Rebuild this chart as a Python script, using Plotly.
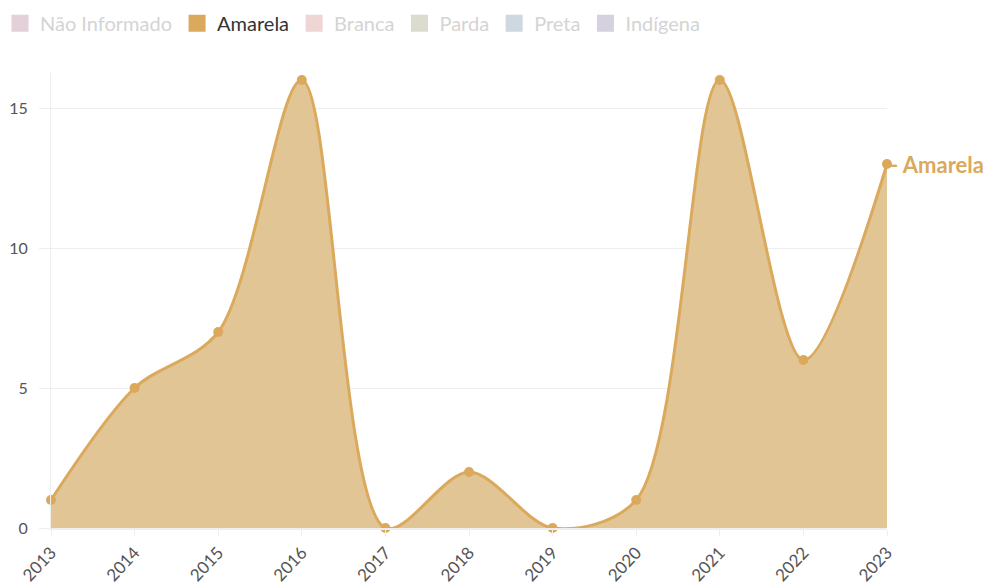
import plotly.graph_objects as go

# anos e valores (apenas a serie Amarela esta visivel)
anos = [2013, 2014, 2015, 2016, 2017, 2018, 2019, 2020, 2021, 2022, 2023]
amarela = [1, 5, 7, 16, 0, 2, 0, 1, 16, 6, 13]

legenda = ["Não Informado", "Amarela", "Branca", "Parda", "Preta", "Indígena"]
cores = {
    "Não Informado": "#c9a3b3",
    "Amarela": "#dba95c",
    "Branca": "#e3adad",
    "Parda": "#b9b9a0",
    "Preta": "#a0b2be",
    "Indígena": "#aea5be",
}

cor_linha = cores["Amarela"]
cor_area = "#e2c594"
fonte = "Lato, 'Open Sans', sans-serif"

fig = go.Figure()

# area da serie Amarela
fig.add_trace(go.Scatter(
    x=anos, y=amarela, name="Amarela", mode="lines+markers",
    line=dict(color=cor_linha, width=3, shape="spline", smoothing=0.9),
    marker=dict(size=10, color=cor_linha), cliponaxis=False,
    fill="tozeroy", fillcolor=cor_area,
    legendgroup="Amarela", showlegend=False))

# itens da legenda (as outras series estao ocultas)
for i, nome in enumerate(legenda):
    visivel = nome == "Amarela"
    texto = nome if visivel else f"<span style='color:#aaaaaa'>{nome}</span>"
    fig.add_trace(go.Scatter(
        x=[None], y=[None], name=texto, mode="markers",
        marker=dict(symbol="square", size=14, color=cores[nome],
                    line=dict(color=cores[nome], width=3)),
        legendgroup=nome, legendrank=i,
        visible=True if visivel else "legendonly"))

# rotulo no fim da serie
fig.add_annotation(
    x=anos[-1], y=amarela[-1], text="<b>- Amarela</b>", showarrow=False,
    xanchor="left", xshift=1, font=dict(size=22, color=cor_linha, family=fonte))

fig.update_xaxes(
    range=[2013, 2023], tickvals=anos, tickangle=-47, automargin=False,
    showgrid=False, showline=True, linecolor="#eeeeee", linewidth=2,
    ticks="outside", ticklen=6, tickcolor="#eeeeee",
    tickfont=dict(size=17, color="#555555", family=fonte), zeroline=False)
fig.update_yaxes(
    range=[0, 16.25], tickvals=[0, 5, 10, 15], automargin=False,
    showgrid=True, gridcolor="#eeeeee", showline=True, linecolor="#eeeeee", linewidth=1,
    ticks="outside", ticklen=11, tickcolor="#eeeeee", ticklabelstandoff=8,
    tickfont=dict(size=16, color="#555555", family=fonte), zeroline=False)

# a pagina tem margem de 8px no body, por isso a figura e menor
fig.update_layout(
    width=986, height=580,
    margin=dict(l=43, r=107, t=65, b=60, autoexpand=False),
    plot_bgcolor="white", paper_bgcolor="white",
    font=dict(family=fonte, color="#444444"),
    legend=dict(orientation="h", x=-0.061, y=1.152, xanchor="left", yanchor="top",
                font=dict(size=20, color="#333333", family=fonte),
                itemwidth=30, tracegroupgap=0),
    showlegend=True,
)

fig.write_html("out.html")
